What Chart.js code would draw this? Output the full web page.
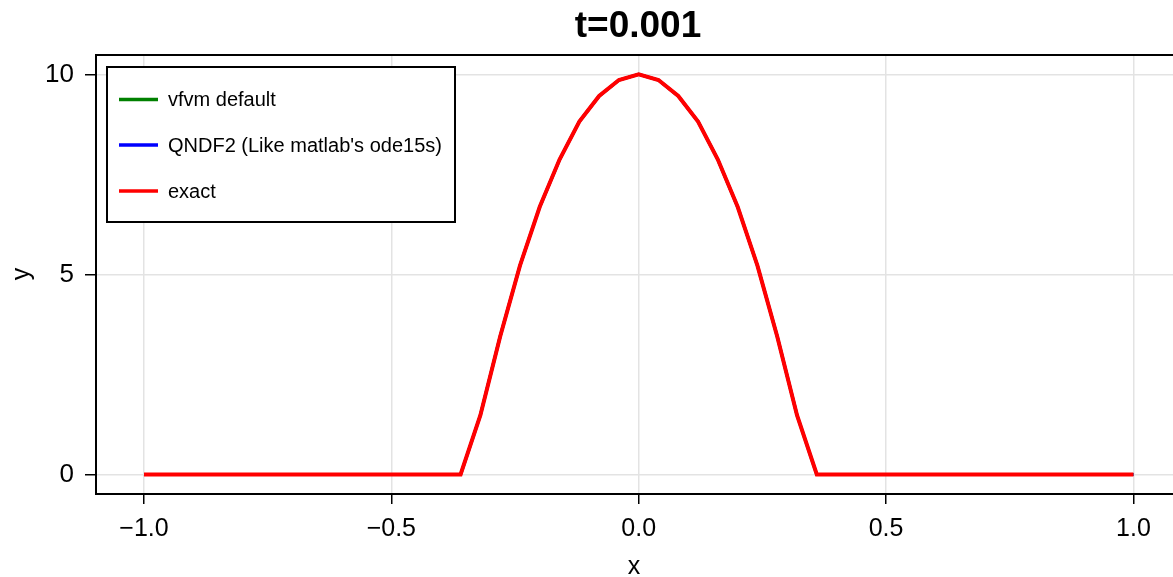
<!DOCTYPE html>
<html>
<head>
<meta charset="utf-8">
<script src="https://cdn.jsdelivr.net/npm/chart.js@4/dist/chart.umd.min.js"></script>
<style>
  html, body { margin: 0; padding: 0; background: #fff; }
  #c { display: block; }
</style>
</head>
<body>
<canvas id="c" width="1173" height="577"></canvas>
<script>
const chartTitle = "t=0.001";
const xAxisTitle = "x";
const yAxisTitle = "y";
const seriesLabels = ["vfvm default", "QNDF2 (Like matlab's ode15s)", "exact"];
const seriesColors = ["#008000", "#0000ff", "#ff0000"];

const xValues = [-1.00,-0.96,-0.92,-0.88,-0.84,-0.80,-0.76,-0.72,-0.68,-0.64,-0.60,-0.56,-0.52,-0.48,-0.44,-0.40,
  -0.36,-0.32,-0.28,-0.24,-0.20,-0.16,-0.12,-0.08,-0.04,0.00,0.04,0.08,0.12,0.16,0.20,0.24,0.28,0.32,0.36,
  0.40,0.44,0.48,0.52,0.56,0.60,0.64,0.68,0.72,0.76,0.80,0.84,0.88,0.92,0.96,1.00];

const vfvmValues = [0,0,0,0,0,0,0,0,0,0,0,0,0,0,0,0,
  0,1.48,3.45,5.22,6.69,7.87,8.82,9.46,9.86,10,9.86,9.46,8.82,7.87,6.69,5.22,3.45,1.48,0,
  0,0,0,0,0,0,0,0,0,0,0,0,0,0,0,0];
const qndf2Values = [0,0,0,0,0,0,0,0,0,0,0,0,0,0,0,0,
  0,1.48,3.45,5.22,6.69,7.87,8.82,9.46,9.86,10,9.86,9.46,8.82,7.87,6.69,5.22,3.45,1.48,0,
  0,0,0,0,0,0,0,0,0,0,0,0,0,0,0,0];
const exactValues = [0,0,0,0,0,0,0,0,0,0,0,0,0,0,0,0,
  0,1.48,3.45,5.22,6.69,7.87,8.82,9.46,9.86,10,9.86,9.46,8.82,7.87,6.69,5.22,3.45,1.48,0,
  0,0,0,0,0,0,0,0,0,0,0,0,0,0,0,0];

const xTickValues = [-1, -0.5, 0, 0.5, 1];
const xTickLabels = ["\u22121.0", "\u22120.5", "0.0", "0.5", "1.0"];
const yTickValues = [0, 5, 10];
const yTickLabels = ["0", "5", "10"];

const FONT = "'Liberation Sans', Arial, sans-serif";

function toPoints(ys) { return xValues.map((x, i) => ({ x: x, y: ys[i] })); }
const allSeries = [vfvmValues, qndf2Values, exactValues];

const datasets = allSeries.map((ys, i) => ({
  label: seriesLabels[i],
  data: toPoints(ys),
  borderColor: seriesColors[i],
  backgroundColor: seriesColors[i],
  borderWidth: i === 2 ? 4 : 3,
  pointRadius: 0,
  tension: 0,
  fill: false,
  order: 3 - i
}));

const framePlugin = {
  id: 'frame',
  afterDraw(chart) {
    const ctx = chart.ctx, a = chart.chartArea;
    ctx.save();
    ctx.strokeStyle = '#000';
    ctx.lineWidth = 2;
    ctx.beginPath();
    ctx.moveTo(a.right + 3, a.top + 1);
    ctx.lineTo(a.left + 1, a.top + 1);
    ctx.lineTo(a.left + 1, a.bottom);
    ctx.lineTo(a.right + 3, a.bottom);
    ctx.stroke();
    ctx.fillStyle = '#000';
    ctx.font = "bold 37px " + FONT;
    ctx.textAlign = 'center';
    ctx.textBaseline = 'middle';
    ctx.fillText(chartTitle, 638, 27);
    const lx = 107, ly = 67, lw = 348, lh = 155;
    ctx.fillStyle = '#fff';
    ctx.fillRect(lx, ly, lw, lh);
    ctx.lineWidth = 2;
    ctx.strokeStyle = '#000';
    ctx.strokeRect(lx, ly, lw, lh);
    const rows = [99.5, 145, 191];
    chart.data.datasets.forEach((ds, i) => {
      const y = rows[i];
      ctx.strokeStyle = ds.borderColor;
      ctx.lineWidth = 3.5;
      ctx.beginPath();
      ctx.moveTo(119, y);
      ctx.lineTo(158, y);
      ctx.stroke();
      ctx.fillStyle = '#000';
      ctx.font = "20px " + FONT;
      ctx.textAlign = 'left';
      ctx.textBaseline = 'middle';
      ctx.fillText(ds.label, 168, y + 1);
    });
    ctx.restore();
  }
};

new Chart(document.getElementById('c'), {
  type: 'line',
  data: { datasets: datasets },
  options: {
    responsive: false,
    animation: false,
    devicePixelRatio: 1,
    layout: { padding: { top: 54, right: 0, left: 0, bottom: 0 } },
    plugins: { legend: { display: false }, title: { display: false }, tooltip: { enabled: false } },
    scales: {
      x: {
        type: 'linear',
        min: -1.099,
        max: 1.080,
        afterBuildTicks(s) { s.ticks = xTickValues.map(v => ({ value: v })); },
        afterFit(s) { s.height = 83; },
        ticks: {
          autoSkip: false,
          maxRotation: 0,
          padding: 10,
          color: '#000',
          font: { family: FONT, size: 25 },
          callback(v) { const i = xTickValues.indexOf(v); return i >= 0 ? xTickLabels[i] : ''; }
        },
        grid: { color: '#e3e3e3', lineWidth: 1.5, tickColor: '#000', tickLength: 10, tickWidth: 1.5 },
        border: { display: false },
        title: { display: true, text: xAxisTitle, color: '#000', font: { family: FONT, size: 25, lineHeight: 1 }, padding: { top: 0, bottom: -3 } }
      },
      y: {
        type: 'linear',
        min: -0.49,
        max: 10.51,
        afterBuildTicks(s) { s.ticks = yTickValues.map(v => ({ value: v })); },
        afterFit(s) { s.width = 95; },
        ticks: {
          autoSkip: false,
          padding: 11,
          color: '#000',
          font: { family: FONT, size: 26 },
          callback(v) { const i = yTickValues.indexOf(v); return i >= 0 ? yTickLabels[i] : ''; }
        },
        grid: { color: '#e3e3e3', lineWidth: 1.5, tickColor: '#000', tickLength: 10, tickWidth: 1.5 },
        border: { display: false },
        title: { display: true, text: yAxisTitle, color: '#000', font: { family: FONT, size: 25, lineHeight: 1 }, padding: { top: 10, bottom: 0 } }
      }
    }
  },
  plugins: [framePlugin]
});
</script>
</body>
</html>
